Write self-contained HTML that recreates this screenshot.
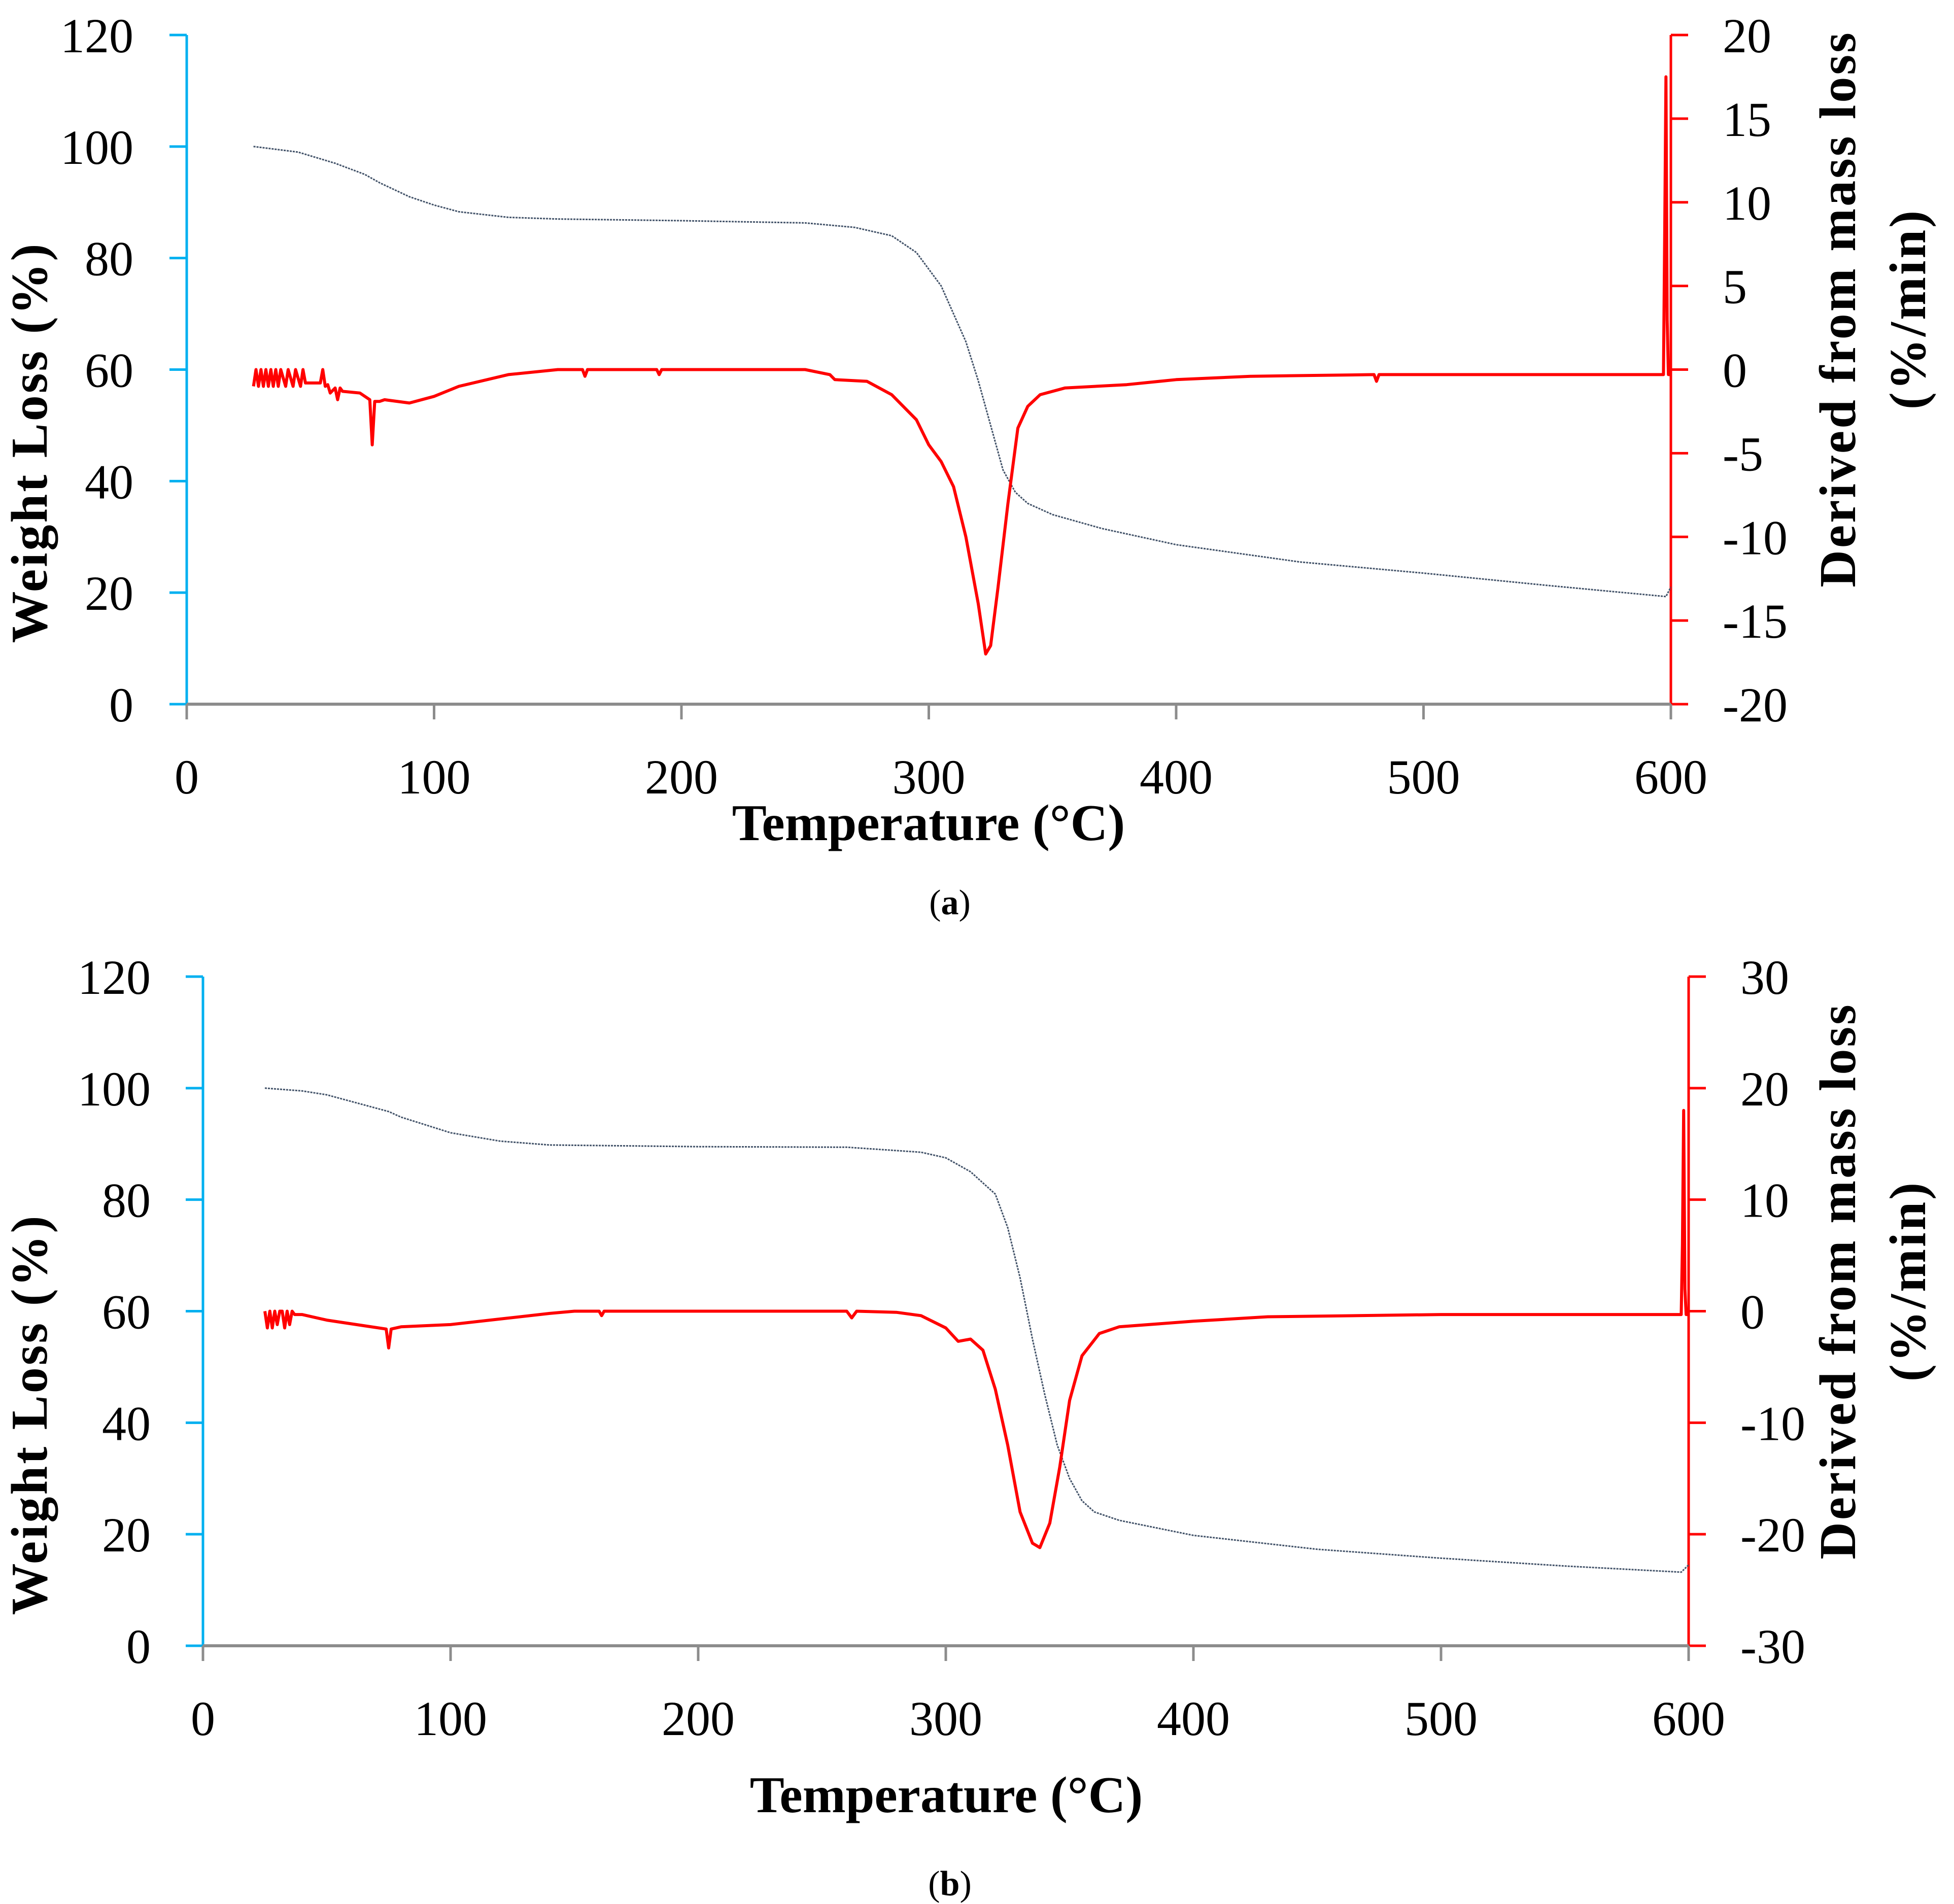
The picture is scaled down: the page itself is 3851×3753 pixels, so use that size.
<!DOCTYPE html>
<html><head><meta charset="utf-8"><style>
html,body{margin:0;padding:0;background:#fff}
svg{display:block}
text{font-family:"Liberation Serif",serif;fill:#000}
.tk{font-size:96px}
.tt{font-size:102px;font-weight:bold}
.rt{letter-spacing:4px}
</style></head><body>
<svg id="svg" width="3851" height="3753" xmlns="http://www.w3.org/2000/svg"></svg>
<script>
// ---- data chart (a) ----
const xTicks = [0,100,200,300,400,500,600];
const leftTicks = [0,20,40,60,80,100,120];
const rightTicksA = [-20,-15,-10,-5,0,5,10,15,20];
const rightTicksB = [-30,-20,-10,0,10,20,30];
const tempA = [27,45,60,72,78,90,100,110,130,150,200,250,270,285,295,305,315,320,325,330,335,340,350,370,400,450,500,550,598,600];
const weightA = [100,99,97,95,93.5,91,89.5,88.3,87.3,87,86.7,86.3,85.5,84,81,75,65,58,50,42,38,36,34,31.5,28.6,25.5,23.5,21.3,19.3,21];
const dtgTempA = [27,28,29,30,31,32,33,34,35,36,37,38,40,41,43,44,46,47,48,54,55,56,57,58,60,61,62,63,70,74,75,76,78,80,90,100,110,130,150,160,161,162,190,191,192,250,260,262,275,285,295,300,305,310,315,320,323,325,328,332,336,340,345,355,380,400,430,480,481,482,500,597,597.5,598,598.5,599,600];
const dtgA = [-1,0,-1,0,-1,0,-1,0,-1,0,-1,0,-1,0,-1,0,-1,0,-0.8,-0.8,0,-1,-0.9,-1.4,-1.1,-1.8,-1.1,-1.3,-1.4,-1.8,-4.5,-1.9,-1.9,-1.8,-2,-1.6,-1,-0.3,0,0,-0.4,0,0,-0.3,0,0,-0.3,-0.6,-0.7,-1.5,-3,-4.5,-5.5,-7,-10,-14,-17,-16.5,-13,-8,-3.5,-2.2,-1.5,-1.1,-0.9,-0.6,-0.4,-0.3,-0.7,-0.3,-0.3,-0.3,8,17.5,3,-0.3,-0.3];
// ---- data chart (b) ----
const tempB = [25,40,50,65,75,80,100,120,140,200,260,290,300,310,320,325,330,335,340,345,350,355,360,370,400,450,500,550,597,600];
const weightB = [100,99.5,98.8,97,95.8,94.8,92,90.5,89.8,89.5,89.4,88.5,87.5,85,81,75,66,55,45,36,30,26,24,22.5,19.8,17.3,15.7,14.3,13.2,14.5];
const dtgTempB = [25,26,27,28,29,30,31,32,33,34,35,36,37,40,50,65,74,75,76,80,100,120,140,150,160,161,162,260,262,264,280,290,300,305,310,315,320,325,330,335,338,342,346,350,355,362,370,400,430,500,597,597.5,598,598.5,599,600];
const dtgB = [0,-1.5,0,-1.5,0,-1.2,0,0,-1.5,0,-1.2,0,-0.3,-0.3,-0.8,-1.3,-1.6,-3.3,-1.6,-1.4,-1.2,-0.7,-0.2,0,0,-0.4,0,0,-0.6,0,-0.1,-0.4,-1.5,-2.7,-2.5,-3.5,-7,-12,-18,-20.8,-21.2,-19,-14,-8,-4,-2,-1.4,-0.9,-0.5,-0.3,-0.3,6,18,2,-0.3,-0.3];

const NS="http://www.w3.org/2000/svg";
const svg=document.getElementById('svg');
function mk(tag,attrs,parent){const e=document.createElementNS(NS,tag);for(const k in attrs)e.setAttribute(k,attrs[k]);(parent||svg).appendChild(e);return e;}

function drawChart(cfg){
  const g=mk('g',{});
  
  
  const X=v=>cfg.x0+(v-0)/600*(cfg.x1-cfg.x0);
  const YL=v=>cfg.y0+(v-0)/120*(cfg.y1-cfg.y0);
  const rmin=cfg.rTicks[0], rmax=cfg.rTicks[cfg.rTicks.length-1];
  const YR=v=>cfg.y0+(v-rmin)/(rmax-rmin)*(cfg.y1-cfg.y0);
  const la=mk('line',{x1:cfg.x0,y1:cfg.y0,x2:cfg.x0,y2:cfg.y1,stroke:'#00b0f0','stroke-width':5},g);
  
  
  leftTicks.forEach(v=>{
    const t=mk('line',{x1:cfg.x0-34,y1:YL(v),x2:cfg.x0,y2:YL(v),stroke:'#00b0f0','stroke-width':5},g);
    
    
    const l=mk('text',{x:cfg.lLabX,y:YL(v)+34,'text-anchor':'end',class:'tk'},g);
    l.textContent=v;
    
    
  });
  const ra=mk('line',{x1:cfg.x1,y1:cfg.y0,x2:cfg.x1,y2:cfg.y1,stroke:'#ff0000','stroke-width':5},g);
  
  
  cfg.rTicks.forEach(v=>{
    const t=mk('line',{x1:cfg.x1,y1:YR(v),x2:cfg.x1+34,y2:YR(v),stroke:'#ff0000','stroke-width':5},g);
    
    
    const l=mk('text',{x:cfg.rLabX,y:YR(v)+34,'text-anchor':'start',class:'tk'},g);
    l.textContent=v;
    
    
  });
  const xa=mk('line',{x1:cfg.x0,y1:cfg.y0,x2:cfg.x1,y2:cfg.y0,stroke:'#8c8c8c','stroke-width':6},g);
  
  
  xTicks.forEach(v=>{
    const t=mk('line',{x1:X(v),y1:cfg.y0,x2:X(v),y2:cfg.y0+30,stroke:'#8c8c8c','stroke-width':5},g);
    
    
    const l=mk('text',{x:X(v),y:cfg.xLabY,'text-anchor':'middle',class:'tk'},g);
    l.textContent=v;
    
    
  });
  const wp=cfg.wT.map((t,i)=>X(t).toFixed(1)+','+YL(cfg.w[i]).toFixed(1)).join(' ');
  const wl=mk('polyline',{points:wp,fill:'none',stroke:'#44546a','stroke-width':3,'stroke-dasharray':'4 2'},g);
  
  
  const dp=cfg.dT.map((t,i)=>X(t).toFixed(1)+','+YR(cfg.d[i]).toFixed(1)).join(' ');
  const dl=mk('polyline',{points:dp,fill:'none',stroke:'#ff0000','stroke-width':6,'stroke-linejoin':'round'},g);
  
  
  const xt=mk('text',{x:cfg.xTitleX,y:cfg.xTitleY,'text-anchor':'middle',class:'tt'},g);
  xt.textContent='Temperature (°C)';
  
  
  const lt=mk('text',{x:0,y:0,'text-anchor':'middle',class:'tt rt',transform:`translate(${cfg.lTitleX},${cfg.lTitleY}) rotate(-90)`},g);
  lt.textContent='Weight Loss (%)';
  
  
  const rt1=mk('text',{x:0,y:0,'text-anchor':'middle',class:'tt rt',transform:`translate(${cfg.rTitleX},${cfg.rTitleY}) rotate(-90)`},g);
  rt1.textContent='Derived from mass loss';
  
  
  const rt2=mk('text',{x:0,y:0,'text-anchor':'middle',class:'tt rt',transform:`translate(${cfg.rTitleX+138},${cfg.rTitleY}) rotate(-90)`},g);
  rt2.textContent='(%/min)';
  
  
  const cap=mk('text',{x:cfg.capX,y:cfg.capY,'text-anchor':'middle','font-size':70},g);
  cap.innerHTML='(<tspan font-weight="bold">'+cfg.cap+'</tspan>)';
  
  
}
drawChart({name:'chart-a',x0:368,x1:3293,y0:1388,y1:69,rTicks:rightTicksA,lLabX:263,rLabX:3395,xLabY:1564,
  wT:tempA,w:weightA,dT:dtgTempA,d:dtgA,xTitleX:1830,xTitleY:1656,lTitleX:92,lTitleY:872,rTitleX:3656,rTitleY:609,capX:1872,capY:1802,cap:'a'});
drawChart({name:'chart-b',x0:400,x1:3328,y0:3244,y1:1925,rTicks:rightTicksB,lLabX:297,rLabX:3430,xLabY:3420,
  wT:tempB,w:weightB,dT:dtgTempB,d:dtgB,xTitleX:1865,xTitleY:3572,lTitleX:92,lTitleY:2788,rTitleX:3656,rTitleY:2525,capX:1872,capY:3736,cap:'b'});
</script>
</body></html>
